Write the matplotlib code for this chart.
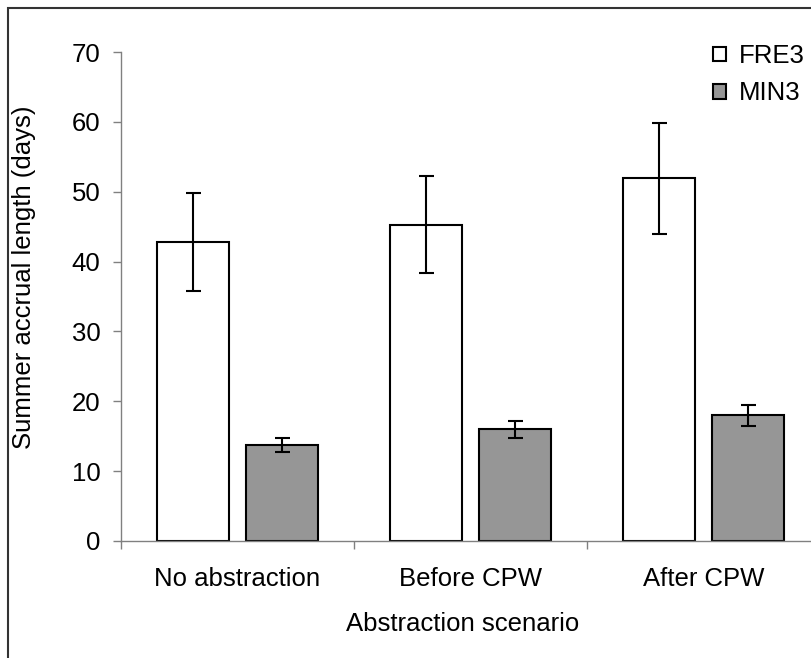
import numpy as np
import matplotlib.pyplot as plt
import matplotlib.ticker as tick
from matplotlib.patches import Rectangle

scenarios = ['No abstraction', 'Before CPW', 'After CPW']
fre3 = [42.8, 45.3, 51.9]
fre3_err = [7.0, 6.9, 7.9]
min3 = [13.7, 16.0, 18.0]
min3_err = [1.0, 1.2, 1.5]

plt.rcParams.update({'font.family': ['Liberation Sans', 'DejaVu Sans'], 'font.size': 18.5})

W, H = 811, 658
fig = plt.figure(figsize=(W/100, H/100), dpi=100)
# plot area runs past the right edge, as in the cropped original
ax = fig.add_axes([121/W, 117/H, 699/W, 489/H])

x = np.arange(len(scenarios))
bw = 0.31
ekw = dict(ecolor='black', elinewidth=1.5, capsize=5.4, capthick=1.5)
ax.bar(x - 0.19, fre3, bw, yerr=fre3_err, color='white', edgecolor='black',
       lw=1.5, label='FRE3', error_kw=ekw, zorder=2)
ax.bar(x + 0.19, min3, bw, yerr=min3_err, color='#969696', edgecolor='black',
       lw=1.5, label='MIN3', error_kw=ekw, zorder=2)

ax.set_xlim(-0.5, 2.5)
ax.set_ylim(0, 70)
ax.yaxis.set_major_locator(tick.MultipleLocator(10))
ax.set_xticks(x)
ax.set_xticklabels(scenarios)
ax.xaxis.set_minor_locator(tick.FixedLocator([-0.5, 0.5, 1.5, 2.5]))
ax.tick_params(axis='x', which='major', length=0, pad=19)
ax.tick_params(axis='x', which='minor', length=5.8, width=1, color='#808080')
ax.tick_params(axis='y', length=5.8, width=1, color='#808080', pad=9)

for s in ['top', 'right']:
    ax.spines[s].set_visible(False)
for s in ['left', 'bottom']:
    ax.spines[s].set_color('#808080')
    ax.spines[s].set_linewidth(1)

ax.set_xlabel('Abstraction scenario')
ax.xaxis.set_label_coords(0.489, -0.145)
ax.set_ylabel('Summer accrual length (days)')
ax.yaxis.set_label_coords(-0.121, 0.54)

ax.legend(loc='upper left', bbox_to_anchor=(713/W, 1 - 44/H), bbox_transform=fig.transFigure,
          frameon=False, borderpad=0, borderaxespad=0, handlelength=0.5, handleheight=0.5,
          handletextpad=0.5, labelspacing=0.52)

# outer chart frame (only left and top edges fall inside the picture)
fig.add_artist(Rectangle((8/W, -0.1), 1.2, 1.1 - 8/H, transform=fig.transFigure,
                         fill=False, ec='#333333', lw=1.5))

fig.savefig('out.png', dpi=100)
